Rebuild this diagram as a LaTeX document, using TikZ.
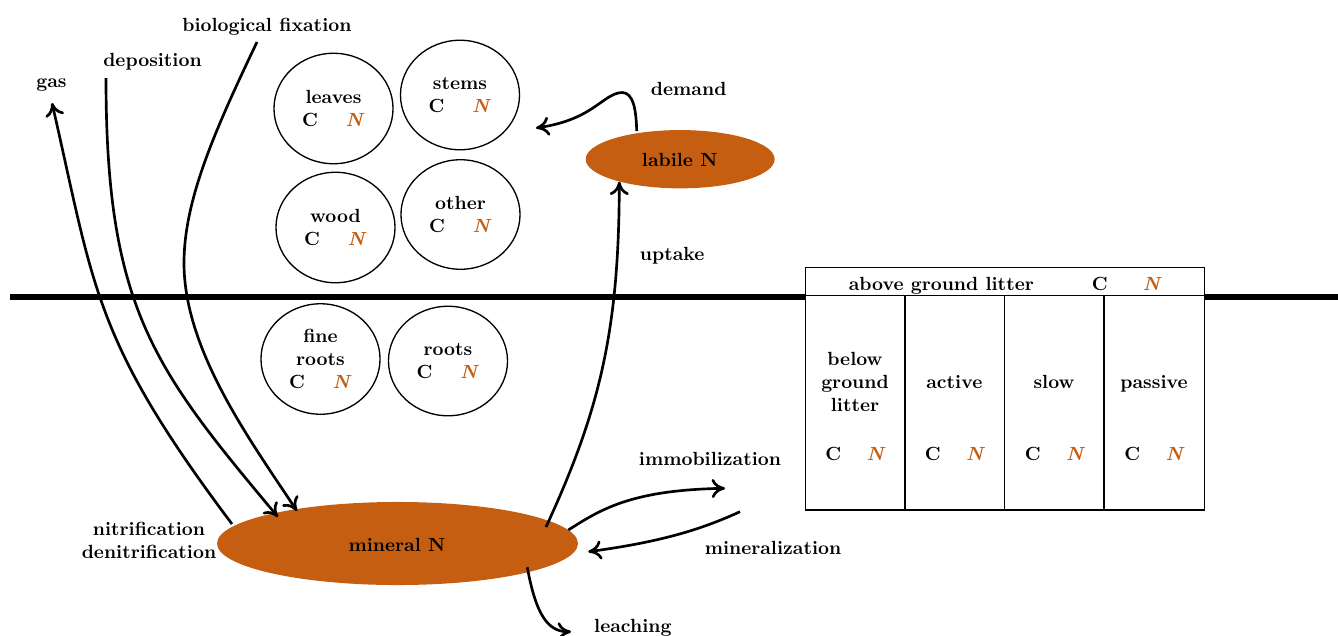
\documentclass[tikz,border=0pt]{standalone}
\usepackage{xcolor}
\usetikzlibrary{shapes.geometric,arrows.meta}
\definecolor{rust}{RGB}{197,94,17}
\newcommand{\Nc}{\textcolor{rust}{\textit{N}}}
\begin{document}
\begin{tikzpicture}[x=0.525pt,y=-0.525pt,font=\bfseries,
  pool/.style={draw,line width=0.7pt,ellipse,inner sep=0pt,minimum width=62.5pt,minimum height=58pt,align=center},
  blob/.style={ellipse,fill=rust,inner sep=0pt},
  flux/.style={line width=1.4pt,-{Computer Modern Rightarrow[length=7pt,width=10pt]}},
  lbl/.style={inner sep=0pt,anchor=base},
  cellline/.style={line width=0.6pt}]
\useasboundingbox (0,0) rectangle (1338,635);

% ground line
\draw[line width=2.9pt] (10,297) coordinate (gl) -- (1338,297) coordinate (gr);

% plant pools
\node[pool] (leaves) at (333.5,108.5) {leaves\\C\hspace{14.5pt}\Nc};
\node[pool,minimum height=57.5pt] (stems) at (460,95) {stems\\C\hspace{14.5pt}\Nc};
\node[pool] (wood) at (335.5,227.5) {wood\\C\hspace{14.5pt}\Nc};
\node[pool,minimum height=57.5pt] (other) at (460.5,214.5) {other\\C\hspace{14.5pt}\Nc};
\node[pool] (fineroots) at (320.5,359) {fine\\roots\\C\hspace{14.5pt}\Nc};
\node[pool,minimum height=57.5pt] (roots) at (448,361) {roots\\C\hspace{14.5pt}\Nc};

% N pools
\node[blob,minimum width=99.2pt,minimum height=30.6pt] (labile) at (680.2,159.2) {};
\node[lbl] (labiletxt) at (679.7,166.7) {labile N};
\node[blob,minimum width=189.5pt,minimum height=43.6pt] (mineral) at (397.5,543.5) {};
\node[lbl] (mineraltxt) at (397,551.5) {mineral N};

% litter / soil box
\draw[cellline,fill=white] (805.7,267.3) rectangle (1204.3,510);
\draw[cellline] (805.7,295.5) -- (1204.3,295.5);
\foreach \xx in {905,1004.3,1104} \draw[cellline] (\xx,295.5) -- (\xx,510);
\node[lbl] (agl) at (941.3,290) {above ground litter};
\node[lbl] (aglC) at (1099.7,290) {C};
\node[lbl] (aglN) at (1152.5,290) {\Nc};
\node[lbl,align=center] (bgl) at (855,411.7) {below\\ground\\litter};
\node[lbl] (act) at (954.3,388.3) {active};
\node[lbl] (slo) at (1054,388.3) {slow};
\node[lbl] (pas) at (1154,388.3) {passive};
\foreach \cx/\nm in {855/c1,954.5/c2,1054.5/c3,1154/c4}{
  \node[lbl] (\nm C) at (\cx-21.6,460) {C};
  \node[lbl] (\nm N) at (\cx+21.2,460) {\Nc};
}

% labels
\node[lbl] (gas) at (51.5,87.3) {gas};
\node[lbl] (dep) at (152.5,66.7) {deposition};
\node[lbl] (fix) at (266.9,31) {biological fixation};
\node[lbl] (dem) at (688.7,95.7) {demand};
\node[lbl] (upt) at (672.2,260) {uptake};
\node[lbl] (imm) at (710,465) {immobilization};
\node[lbl] (minz) at (773,554) {mineralization};
\node[lbl,align=center] (nit) at (149,558) {nitrification\\denitrification};
\node[lbl] (lea) at (632.8,632.6) {leaching};

% end points
\coordinate (gasS) at (232,524);
\coordinate (gasE) at (52,103);
\coordinate (depS) at (106,78);
\coordinate (depE) at (278,517);
\coordinate (fixS) at (257,42);
\coordinate (fixM) at (184,263);
\coordinate (fixE) at (297,511);
\coordinate (uptS) at (546,527);
\coordinate (uptE) at (619.3,181.7);
\coordinate (demS) at (636.7,131);
\coordinate (demM) at (618,93);
\coordinate (demE) at (536,128);
\coordinate (immS) at (568.3,530);
\coordinate (immE) at (725,488.3);
\coordinate (minS) at (740,511.7);
\coordinate (minE) at (588.3,551.7);
\coordinate (leaS) at (527.3,567.3);
\coordinate (leaE) at (571,631.7);

% fluxes
\draw[flux] (gasS) .. controls (93,339) and (94.5,288) .. (gasE);
\draw[flux] (depS) .. controls (106,308) and (154,369) .. (depE);
\draw[flux] (fixS) .. controls (215,130) and (184,200) .. (fixM)
   .. controls (184,350) and (250,440) .. (fixE);
\draw[flux] (uptS) .. controls (600,410) and (619,330) .. (uptE);
\draw[flux] (demS) .. controls (636,100) and (630,90) .. (demM)
   .. controls (600,98) and (590,120) .. (demE);
\draw[flux] (immS) .. controls (600,510) and (630,490) .. (immE);
\draw[flux] (minS) .. controls (700,530) and (660,542) .. (minE);
\draw[flux] (leaS) .. controls (536,615) and (548,632) .. (leaE);
\end{tikzpicture}
\end{document}
